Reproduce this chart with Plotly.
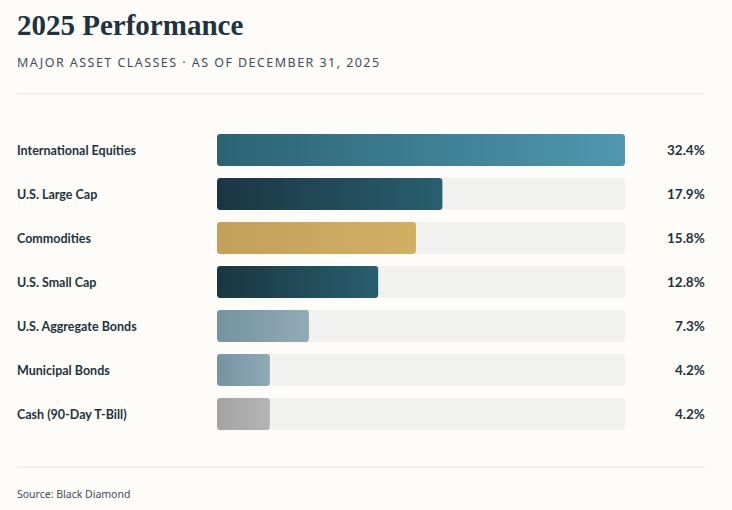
import numpy as np
import plotly.graph_objects as go

categories = ["International Equities", "U.S. Large Cap", "Commodities", "U.S. Small Cap",
              "U.S. Aggregate Bonds", "Municipal Bonds", "Cash (90-Day T-Bill)"]
values = [32.4, 17.9, 15.8, 12.8, 7.3, 4.2, 4.2]
value_labels = ["32.4%", "17.9%", "15.8%", "12.8%", "7.3%", "4.2%", "4.2%"]
grad_start = ["#2b6373", "#1b3542", "#c3a05a", "#1b3542", "#7593a1", "#7593a1", "#a3a3a3"]
grad_end = ["#4f98b0", "#285f6e", "#d1b064", "#285f6e", "#91abb6", "#8eaab5", "#b5b5b5"]

W, H = 732, 510
BG = "#fdfcf8"
TRACK = "#f1f2ef"
INK = "#1d3340"
MUTED = "#414c5c"

x0_px, x1_px = 217, 625
y0_px, y1_px = 128, 436
n = len(categories)
xmax = max(values)
bar_w = 0.727

fig = go.Figure()

# tracks
fig.add_trace(go.Bar(
    x=[xmax] * n, y=list(range(n)), orientation="h", width=bar_w,
    marker=dict(color=TRACK, cornerradius=3, line=dict(width=0)),
    hoverinfo="skip", showlegend=False))

# value bars as rounded gradient shapes
ux = xmax / (x1_px - x0_px)          # data units per px (x)
uy = n / (y1_px - y0_px)             # data units per px (y)
r = 3
t = np.linspace(0, np.pi / 2, 6)
for i, v in enumerate(values):
    xa, xb = 0.0, v
    ya, yb = i - bar_w / 2, i + bar_w / 2
    rx, ry = r * ux, r * uy
    xs, ys = [], []
    for a in t:
        xs.append(xb - rx + rx * np.sin(a)); ys.append(ya + ry - ry * np.cos(a))
    for a in t:
        xs.append(xb - rx + rx * np.cos(a)); ys.append(yb - ry + ry * np.sin(a))
    for a in t:
        xs.append(xa + rx - rx * np.sin(a)); ys.append(yb - ry + ry * np.cos(a))
    for a in t:
        xs.append(xa + rx - rx * np.cos(a)); ys.append(ya + ry - ry * np.sin(a))
    xs.append(xs[0]); ys.append(ys[0])
    fig.add_trace(go.Scatter(
        x=xs, y=ys, mode="lines", fill="toself", line=dict(width=0, color=grad_start[i]),
        fillgradient=dict(type="horizontal", colorscale=[[0, grad_start[i]], [1, grad_end[i]]]),
        hoverinfo="skip", showlegend=False))

annotations = []
for i, (c, lab) in enumerate(zip(categories, value_labels)):
    annotations.append(dict(x=15 / W, xref="paper", y=i, yref="y", text=c, showarrow=False,
                            xanchor="left", yanchor="middle",
                            font=dict(family="Lato", size=12.5, color=INK, weight=700)))
    annotations.append(dict(x=707 / W, xref="paper", y=i, yref="y", text=lab, showarrow=False,
                            xanchor="right", yanchor="middle",
                            font=dict(family="Lato", size=13.5, color=INK, weight=700)))

annotations.append(dict(x=15 / W, xref="paper", y=1 - 25 / H, yref="paper", text="2025 Performance",
                        showarrow=False, xanchor="left", yanchor="middle",
                        font=dict(family="Liberation Serif", size=29, color=INK, weight=700)))
annotations.append(dict(x=15 / W, xref="paper", y=1 - 62 / H, yref="paper",
                        text='<span style="letter-spacing:1.45px">MAJOR ASSET CLASSES · AS OF DECEMBER 31, 2025</span>',
                        showarrow=False, xanchor="left", yanchor="middle", align="left",
                        font=dict(family="Noto Sans", size=12.5, color=MUTED)))
annotations.append(dict(x=15 / W, xref="paper", y=1 - 494 / H, yref="paper",
                        text="Source: Black Diamond",
                        showarrow=False, xanchor="left", yanchor="middle",
                        font=dict(family="Noto Sans", size=10.5, color=MUTED)))

shapes = [
    dict(type="line", xref="paper", yref="paper", x0=17 / W, x1=705 / W, y0=1 - 94 / H, y1=1 - 94 / H,
         line=dict(color="#e6e5e0", width=1)),
    dict(type="line", xref="paper", yref="paper", x0=17 / W, x1=705 / W, y0=1 - 467 / H, y1=1 - 467 / H,
         line=dict(color="#e6e5e0", width=1)),
]

fig.update_layout(
    width=W, height=H, margin=dict(l=0, r=0, t=0, b=0),
    paper_bgcolor=BG, plot_bgcolor=BG,
    xaxis=dict(domain=[x0_px / W, x1_px / W], range=[0, xmax], visible=False, fixedrange=True),
    yaxis=dict(domain=[1 - y1_px / H, 1 - y0_px / H], range=[n - 0.5, -0.5], visible=False, fixedrange=True),
    annotations=annotations, shapes=shapes, showlegend=False, barmode="overlay",
)

fig.write_html("out.html", config={"displayModeBar": False},
               post_script="document.body.style.margin='0';document.body.style.background='" + BG + "';")
